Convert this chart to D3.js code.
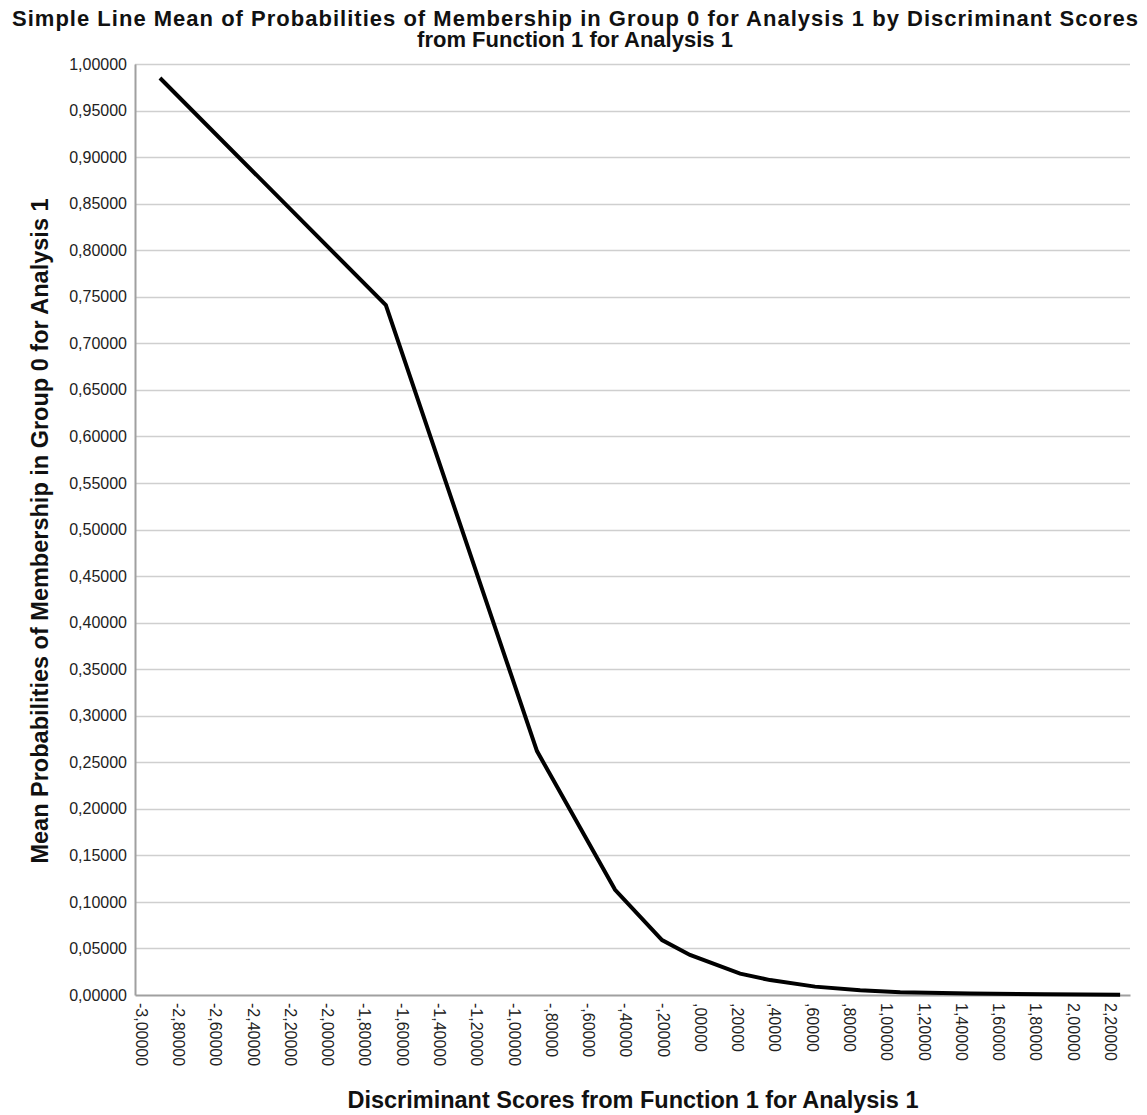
<!DOCTYPE html>
<html>
<head>
<meta charset="utf-8">
<script src="https://cdn.jsdelivr.net/npm/d3@7"></script>
<style>
  html, body { margin: 0; padding: 0; background: #fff; }
  svg { display: block; font-family: Arial, "Liberation Sans", sans-serif; }
</style>
</head>
<body>
<svg id="chart" width="1147" height="1115"></svg>
<script>
// Discriminant scores (x) and mean probability of membership in group 0 (y)
const scores = [-2.898, -1.686, -0.875, -0.456, -0.204, -0.054, 0.215, 0.376, 0.617, 0.859, 1.074, 1.45, 1.85, 2.254];
const probs  = [0.985, 0.741, 0.262, 0.113, 0.059, 0.043, 0.023, 0.016, 0.009, 0.005, 0.003, 0.0015, 0.0008, 0.0004];

// Tick values for both axes
const xTicks = d3.range(0, 27).map(i => -3 + i * 0.2);
const yTicks = d3.range(0, 21).map(i => i * 0.05);

const titleLines = [
  "Simple Line Mean of Probabilities of Membership in Group 0 for Analysis 1 by Discriminant Scores",
  "from Function 1 for Analysis 1"
];
const xTitle = "Discriminant Scores from Function 1 for Analysis 1";
const yTitle = "Mean Probabilities of Membership in Group 0 for Analysis 1";

const svg = d3.select("#chart");
const plotLeft = 135, plotRight = 1130, plotTop = 64, plotBottom = 995;
const tickFont = 16, titleFont = 22, axisTitleFont = 23.5;

const x = d3.scaleLinear().domain([-3.032, 2.307]).range([plotLeft, plotRight]);
const y = d3.scaleLinear().domain([0, 1]).range([plotBottom, plotTop]);

// Number format with comma decimal and no leading zero for |v| < 1
function fmtX(v) {
  if (Math.abs(v) < 1e-9) v = 0;
  let s = Math.abs(v).toFixed(5).replace(".", ",");
  if (Math.abs(v) < 1) s = s.replace(/^0/, "");
  return (v < 0 ? "-" : "") + s;
}
function fmtY(v) { return v.toFixed(5).replace(".", ","); }

// Horizontal gridlines
svg.append("g")
  .selectAll("line")
  .data(yTicks.slice(1))
  .join("line")
  .attr("x1", plotLeft).attr("x2", plotRight)
  .attr("y1", d => Math.round(y(d)) + 0.5).attr("y2", d => Math.round(y(d)) + 0.5)
  .attr("stroke", "#cfcfcf").attr("stroke-width", 1.5);

// Y axis
const yAxis = svg.append("g")
  .attr("transform", `translate(${plotLeft},0)`)
  .call(d3.axisLeft(y).tickValues(yTicks).tickFormat(fmtY).tickSize(0).tickPadding(8));
yAxis.select(".domain").attr("stroke", "#a0a0a0").attr("stroke-width", 2);
yAxis.selectAll("text").attr("font-size", tickFont).attr("fill", "#222")
  .attr("font-family", "Arial, 'Liberation Sans', sans-serif");

// X axis
const xAxis = svg.append("g")
  .attr("transform", `translate(0,${plotBottom})`)
  .call(d3.axisBottom(x).tickValues(xTicks).tickFormat(fmtX).tickSize(0));
xAxis.select(".domain").attr("stroke", "#a0a0a0").attr("stroke-width", 2);
xAxis.selectAll("text")
  .attr("font-size", tickFont).attr("fill", "#222")
  .attr("font-family", "Arial, 'Liberation Sans', sans-serif")
  .attr("text-anchor", "start")
  .attr("y", 0).attr("dy", "0.35em")
  .attr("transform", "translate(0,8) rotate(90)");

// Line
const line = d3.line().x((d, i) => x(scores[i])).y(d => y(d));
svg.append("path")
  .datum(probs)
  .attr("d", line)
  .attr("fill", "none")
  .attr("stroke", "#000")
  .attr("stroke-width", 4)
  .attr("stroke-linejoin", "miter");

// Title (two lines; the first spans the chart width)
const title = svg.append("g").selectAll("text")
  .data(titleLines)
  .join("text")
  .attr("x", 575).attr("y", (d, i) => 26 + i * 21)
  .attr("text-anchor", "middle")
  .attr("font-size", titleFont).attr("font-weight", "bold").attr("fill", "#111")
  .text(d => d);
title.filter((d, i) => i === 0)
  .attr("textLength", 1126)
  .attr("lengthAdjust", "spacing");

// Axis titles
svg.append("text")
  .attr("x", 633).attr("y", 1108)
  .attr("text-anchor", "middle")
  .attr("font-size", axisTitleFont).attr("font-weight", "bold").attr("fill", "#111")
  .text(xTitle);

svg.append("text")
  .attr("transform", "translate(48,531) rotate(-90)")
  .attr("text-anchor", "middle")
  .attr("font-size", axisTitleFont).attr("font-weight", "bold").attr("fill", "#111")
  .text(yTitle);
</script>
</body>
</html>
